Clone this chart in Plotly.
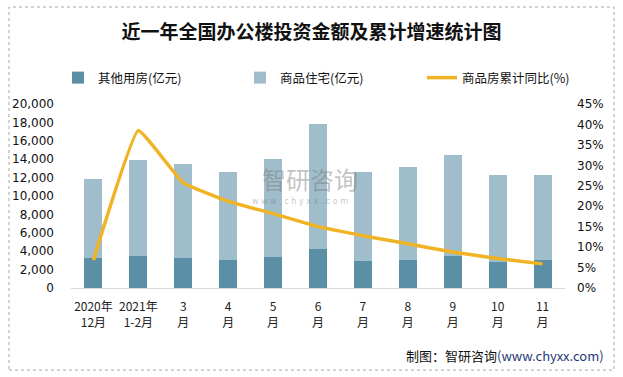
import plotly.graph_objects as go

categories = ["2020年<br>12月", "2021年<br>1-2月", "3<br>月", "4<br>月", "5<br>月", "6<br>月",
              "7<br>月", "8<br>月", "9<br>月", "10<br>月", "11<br>月"]
other_use = [3300, 3500, 3300, 3080, 3400, 4270, 2970, 3080, 3500, 2860, 3080]
residential = [8600, 10450, 10200, 9560, 10650, 13590, 9670, 10100, 10990, 9440, 9220]
yoy_pct = [6.8, 38.5, 25.7, 21.2, 18.2, 15.0, 12.8, 10.8, 8.8, 7.2, 5.9]
left_ticks = [0, 2000, 4000, 6000, 8000, 10000, 12000, 14000, 16000, 18000, 20000]
right_ticks = [0, 5, 10, 15, 20, 25, 30, 35, 40, 45]
right_tick_labels = [f"{v}%" for v in right_ticks]

W, H = 623, 377
L, R, T, B = 71, 565, 104, 288
pw, ph = R - L, B - T

def px(x):
    return (x - L) / pw

def py(y):
    return (B - y) / ph

CJK = "Noto Sans CJK SC"
NUM = "DejaVu Sans"

fig = go.Figure()
fig.add_trace(go.Bar(x=categories, y=other_use, name="其他用房(亿元)",
                     marker=dict(color="#5B8FA6", line=dict(width=0))))
fig.add_trace(go.Bar(x=categories, y=residential, name="商品住宅(亿元)",
                     marker=dict(color="#9FBDCA", line=dict(width=0))))
fig.add_trace(go.Scatter(x=categories, y=yoy_pct, name="商品房累计同比(%)", yaxis="y2",
                         mode="lines", line=dict(color="#F0B323", width=3.5, shape="spline", smoothing=0.3)))

fig.update_layout(
    width=W, height=H,
    margin=dict(l=L, r=W - R, t=T, b=H - B),
    paper_bgcolor="white", plot_bgcolor="white",
    barmode="stack", bargap=0.6,
    title=dict(text="<b>近一年全国办公楼投资金额及累计增速统计图</b>",
               x=0.5, xanchor="center", y=1 - 32 / H, yanchor="middle",
               font=dict(family=CJK, size=19, color="#111111")),
    xaxis=dict(showgrid=False, showline=True, linecolor="#D9D9D9", linewidth=1,
               ticks="", ticklabelstandoff=8, tickfont=dict(family=CJK, size=12, color="#222222")),
    yaxis=dict(range=[0, 20000], tickvals=left_ticks, tickformat=",d", showgrid=False,
               zeroline=False, showline=False, ticks="", ticklabelstandoff=16,
               tickfont=dict(family=NUM, size=12, color="#111111")),
    yaxis2=dict(range=[0, 45], tickvals=right_ticks, ticktext=right_tick_labels, overlaying="y",
                side="right", showgrid=False, zeroline=False, showline=False, ticks="",
                ticklabelstandoff=11, tickfont=dict(family=NUM, size=12, color="#111111")),
    legend=dict(orientation="h", x=px(58), xanchor="left", y=py(78), yanchor="middle",
                entrywidth=137, entrywidthmode="pixels", traceorder="normal",
                font=dict(family=CJK, size=12.5, color="#111111"), bgcolor="rgba(0,0,0,0)"),
    showlegend=True,
)

fig.add_shape(type="rect", xref="paper", yref="paper",
              x0=px(9), x1=px(614), y0=py(370), y1=py(7),
              line=dict(color="#A6A6A6", width=1, dash="dot"), layer="below")

fig.add_annotation(xref="paper", yref="paper", x=px(606), y=py(355),
                   xanchor="right", yanchor="middle", showarrow=False,
                   text="制图：智研咨询<span style='color:#1F3A78'>(www.chyxx.com)</span>",
                   font=dict(family=CJK, size=13, color="#111111"))

# watermark
fig.add_annotation(xref="paper", yref="paper", x=px(310), y=py(178),
                   xanchor="center", yanchor="middle", showarrow=False,
                   text="智研咨询", font=dict(family=CJK, size=24, color="rgba(120,120,120,0.45)"))
fig.add_annotation(xref="paper", yref="paper", x=px(300), y=py(201),
                   xanchor="center", yanchor="middle", showarrow=False,
                   text="w w w . c h y x x . c o m", font=dict(family=NUM, size=8, color="rgba(120,120,120,0.45)"))

fig.write_html("out.html", config={"displayModeBar": False},
               post_script="document.body.style.margin='0';")
